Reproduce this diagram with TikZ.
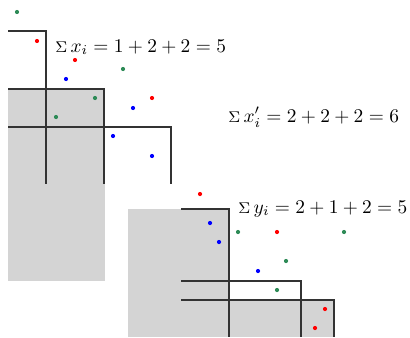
\documentclass[tikz,border=0pt]{standalone}
\usepackage{amsmath}
\usetikzlibrary{positioning}
\definecolor{seagreen}{RGB}{46,139,87}
\definecolor{blockgray}{gray}{0.83}
\newcommand{\sg}{\mbox{\footnotesize$\Sigma$}\,}

\begin{document}
\begin{tikzpicture}[x=0.5pt,y=-0.5pt,
dot/.style={circle,fill,minimum size=2.1pt,inner sep=0pt},
hook/.style={draw=black!80,line width=0.6pt},
label/.style={anchor=base west,inner sep=0pt,scale=0.97}]
\useasboundingbox (0,0) rectangle (410,337);
% shaded blocks
\fill[blockgray] (8,89) rectangle (105,281);
\fill[blockgray] (128,209) rectangle (229,337);
\fill[blockgray] (229,300) rectangle (334,337);
% upper hooks
\draw[hook] (8,31)--(46,31)--(46,184);
\draw[hook] (8,89)--(104,89)--(104,184);
\draw[hook] (8,127)--(171,127)--(171,184);
% lower hooks
\draw[hook] (181,209)--(229,209)--(229,337);
\draw[hook] (181,281)--(301,281)--(301,337);
\draw[hook] (181,300)--(334,300)--(334,337);
% points above
\node[dot,seagreen] (g1) at (17,12) {};
\node[dot,red] (r1) at (37,41) {};
\node[dot,red] (r2) at (75,60) {};
\node[dot,seagreen] (g2) at (123,69) {};
\node[dot,blue] (b1) at (66,79) {};
\node[dot,seagreen] (g3) at (95,98) {};
\node[dot,red] (r3) at (152,98) {};
\node[dot,blue] (b2) at (133,108) {};
\node[dot,seagreen] (g4) at (56,117) {};
\node[dot,blue] (b3) at (113,136) {};
\node[dot,blue] (b4) at (152,156) {};
% points below
\node[dot,red] (r4) at (200,194) {};
\node[dot,blue] (b5) at (210,223) {};
\node[dot,blue] (b6) at (219,242) {};
\node[dot,seagreen] (g5) at (238,232) {};
\node[dot,red] (r5) at (277,232) {};
\node[dot,seagreen] (g6) at (344,232) {};
\node[dot,seagreen] (g7) at (286,261) {};
\node[dot,blue] (b7) at (258,271) {};
\node[dot,seagreen] (g8) at (277,290) {};
\node[dot,red] (r6) at (325,309) {};
\node[dot,red] (r7) at (315,328) {};
% sums
\node[label] (Sx) at (55,52) {$\sg x_i = 1+2+2=5$};
\node[label] (Sxp) at (228,122) {$\sg x'_i = 2+2+2=6$};
\node[label] (Sy) at (238,213) {$\sg y_i = 2+1+2=5$};
\end{tikzpicture}
\end{document}
